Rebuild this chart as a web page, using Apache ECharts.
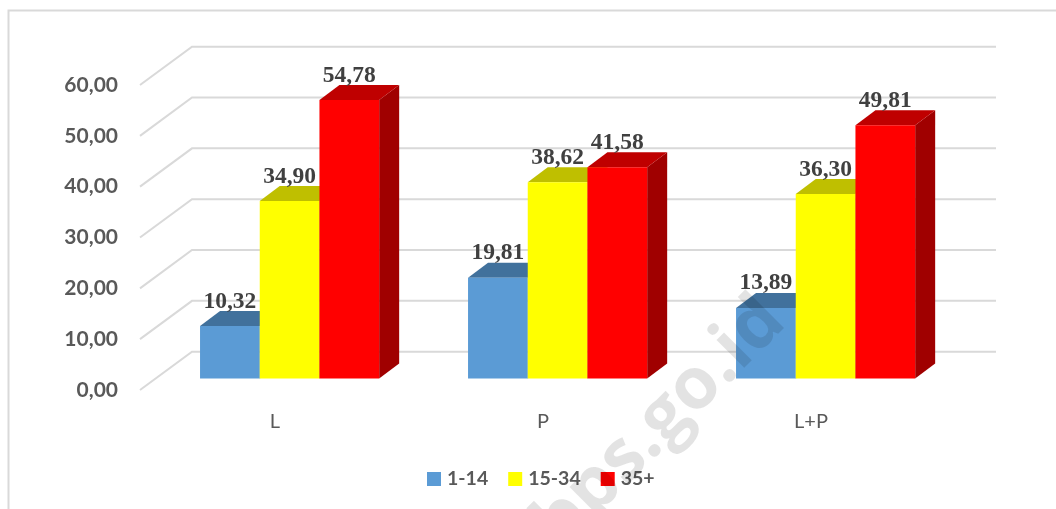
<!DOCTYPE html>
<html>
<head>
<meta charset="utf-8">
<style>
  html, body { margin: 0; padding: 0; background: #fff; }
  #chart-container { width: 1056px; height: 509px; }
</style>
<script src="https://cdn.jsdelivr.net/npm/echarts@6/dist/echarts.min.js"></script>
</head>
<body>
<div id="chart-container"></div>
<script>
var categories = ['L', 'P', 'L+P'];
var seriesNames = ['1-14', '15-34', '35+'];
var values1to14 = [10.32, 19.81, 13.89];
var values15to34 = [34.90, 38.62, 36.30];
var values35plus = [54.78, 41.58, 49.81];
var valueLabels1to14 = ['10,32', '19,81', '13,89'];
var valueLabels15to34 = ['34,90', '38,62', '36,30'];
var valueLabels35plus = ['54,78', '41,58', '49,81'];
var yTicks = [0, 10, 20, 30, 40, 50, 60];
var yTickLabels = ['0,00', '10,00', '20,00', '30,00', '40,00', '50,00', '60,00'];

// fake 3d: the wall sits behind the front plane, bars stand part way in
var WALL_DX = 52, WALL_DY = 38.3;
var BAR_IN_DX = 15.6, BAR_IN_DY = 11.5;
var BAR_DX = 20, BAR_DY = 15;
var BAR_FRACTION = 0.2228;

function wallItem(params, api) {
  var cs = params.coordSys;
  var y = api.coord([0, api.value(1)])[1];
  var pts = [[cs.x, y], [cs.x + WALL_DX, y - WALL_DY], [cs.x + cs.width + WALL_DX, y - WALL_DY]];
  return {
    type: 'polyline',
    shape: { points: pts },
    style: { stroke: '#d9d9d9', lineWidth: 2, fill: null }
  };
}

function barItem(slot, colors, labels) {
  return function (params, api) {
    var top = api.coord([api.value(0), api.value(1)]);
    var base = api.coord([api.value(0), 0]);
    var w = api.size([1, 0])[0] * BAR_FRACTION;
    var x0 = top[0] + BAR_IN_DX + (slot - 1.5) * w;
    var x1 = x0 + w;
    var y0 = top[1] - BAR_IN_DY;
    var y1 = base[1] - BAR_IN_DY;
    return {
      type: 'group',
      children: [
        {
          type: 'polygon',
          shape: { points: [[x1, y0], [x1 + BAR_DX, y0 - BAR_DY], [x1 + BAR_DX, y1 - BAR_DY], [x1, y1]] },
          style: { fill: colors[2] }
        },
        {
          type: 'polygon',
          shape: { points: [[x0, y0], [x0 + BAR_DX, y0 - BAR_DY], [x1 + BAR_DX, y0 - BAR_DY], [x1, y0]] },
          style: { fill: colors[1] }
        },
        {
          type: 'rect',
          shape: { x: x0, y: y0, width: w, height: y1 - y0 },
          style: { fill: colors[0] }
        },
        {
          type: 'text',
          z2: 50,
          style: {
            x: x0 + w / 2,
            y: y0 - BAR_DY - 9.5,
            text: labels[params.dataIndex],
            align: 'center',
            verticalAlign: 'middle',
            fill: '#404040',
            font: 'bold 23.5px "Liberation Serif"'
          }
        }
      ]
    };
  };
}

function toPairs(vals) {
  return vals.map(function (v, i) { return [i, v]; });
}

var dom = document.getElementById('chart-container');
var myChart = echarts.init(dom, null, { renderer: 'canvas' });

var option = {
  animation: false,
  backgroundColor: '#fff',
  grid: { left: 140, right: 112, top: 85, height: 305 },
  legend: {
    data: seriesNames,
    left: 422,
    top: 464,
    icon: 'rect',
    itemWidth: 14,
    itemHeight: 14,
    itemGap: 20,
    textStyle: { fontFamily: 'Lato', fontWeight: 'bold', fontSize: 19.5, color: '#595959', padding: [0, 0, 0, 1] }
  },
  xAxis: {
    type: 'category',
    data: categories,
    axisLine: { show: false },
    axisTick: { show: false },
    axisLabel: { margin: 22, fontFamily: 'Lato', fontSize: 20, color: '#595959', padding: [0, 0, 0, 2] }
  },
  yAxis: {
    type: 'value',
    min: 0,
    max: 60,
    interval: 10,
    axisLine: { show: false },
    axisTick: { show: false },
    splitLine: { show: false },
    axisLabel: {
      margin: 22,
      fontFamily: 'Lato',
      fontWeight: 'bold',
      fontSize: 21,
      color: '#595959',
      formatter: function (v) { return yTickLabels[yTicks.indexOf(v)]; }
    }
  },
  series: [
    {
      type: 'custom',
      silent: true,
      renderItem: wallItem,
      data: yTicks.map(function (v) { return [0, v]; }),
      encode: { x: 0, y: 1 }
    },
    {
      name: seriesNames[0],
      type: 'custom',
      renderItem: barItem(0, ['#5b9bd5', '#41719c', '#2e5f8a'], valueLabels1to14),
      itemStyle: { color: '#5b9bd5' },
      data: toPairs(values1to14),
      encode: { x: 0, y: 1 }
    },
    {
      name: seriesNames[1],
      type: 'custom',
      renderItem: barItem(1, ['#ffff00', '#bfbf00', '#999900'], valueLabels15to34),
      itemStyle: { color: '#ffff00' },
      data: toPairs(values15to34),
      encode: { x: 0, y: 1 }
    },
    {
      name: seriesNames[2],
      type: 'custom',
      renderItem: barItem(2, ['#ff0000', '#bf0000', '#a00000'], valueLabels35plus),
      itemStyle: { color: '#ff0000' },
      data: toPairs(values35plus),
      encode: { x: 0, y: 1 }
    }
  ],
  graphic: [
    {
      type: 'polyline',
      silent: true,
      shape: { points: [[8.5, 509], [8.5, 10.5], [1056, 10.5]] },
      style: { stroke: '#d9d9d9', lineWidth: 2, fill: null }
    },
    {
      type: 'text',
      silent: true,
      z: 100,
      x: 660,
      y: 423,
      rotation: Math.PI / 4,
      style: {
        text: 'bps.go.id',
        align: 'center',
        verticalAlign: 'middle',
        fill: 'rgba(0,0,0,0.11)',
        font: 'bold 72px "Open Sans"'
      }
    }
  ]
};

myChart.setOption(option);
window.addEventListener('resize', myChart.resize);
</script>
</body>
</html>
